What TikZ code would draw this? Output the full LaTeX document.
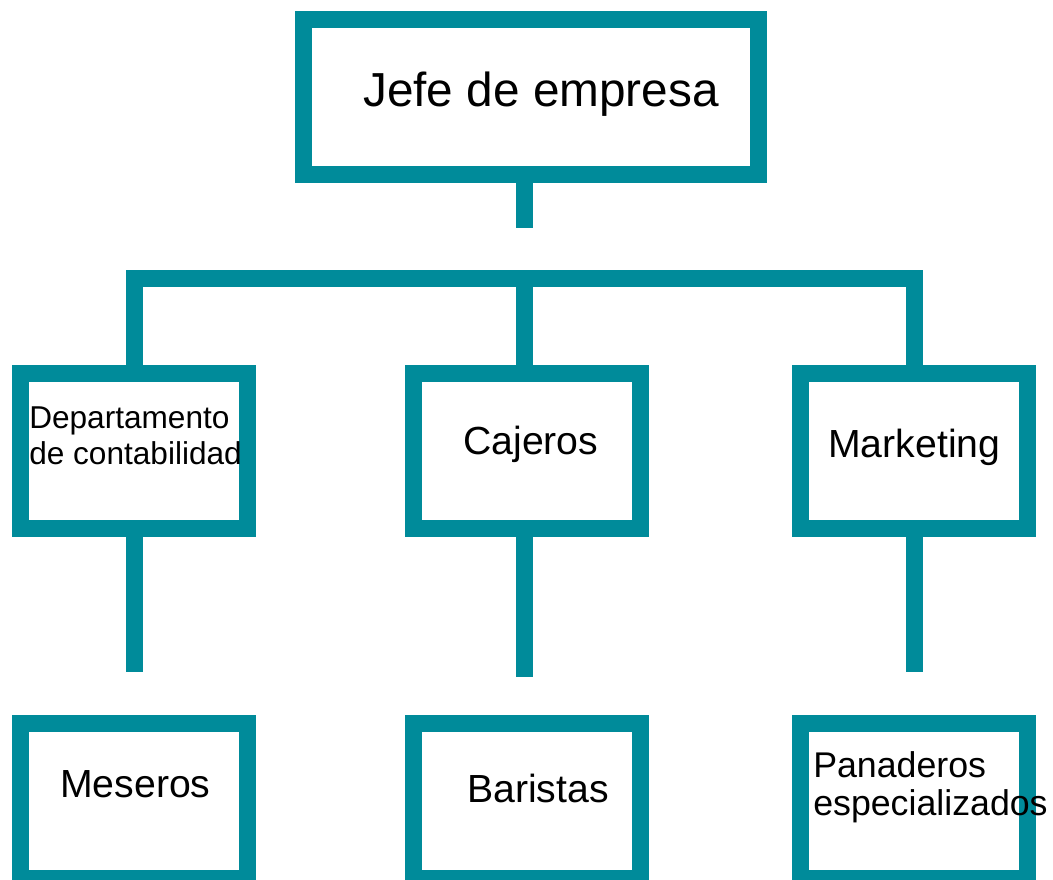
\documentclass[tikz,border=0pt]{standalone}
\usepackage{fontspec}
\setmainfont{Liberation Sans}
\definecolor{teal}{RGB}{0,139,154}

\begin{document}
\begin{tikzpicture}[x=0.75pt,y=-0.75pt,
  box/.style={draw=teal,rectangle,line width=12.75pt,minimum width=170.25pt,minimum height=116.25pt,inner sep=0pt},
  link/.style={draw=teal,line width=12.75pt,line join=miter},
  lbl/.style={inner sep=0pt,anchor=base west,align=left}]
\useasboundingbox (0,0) rectangle (1053,879);

% boxes
\node [box,minimum width=340.9pt,minimum height=115.9pt] (jefe) at (531.25,96.75) {};
\node [box] (dep) at (134,450.5) {};
\node [box] (caj) at (527,450.5) {};
\node [box] (mkt) at (914,450.5) {};
\node [box] (mes) at (134,801) {};
\node [box] (bar) at (527,801) {};
\node [box] (pan) at (914,801) {};

% texts (two-line labels sit on their last baseline)
\node [lbl,font=\fontsize{35.8pt}{40pt}\selectfont] (jefetxt) at (363,106) {Jefe de empresa};
\node [lbl,font=\fontsize{23.7pt}{27pt}\selectfont] (deptxt) at (29,464) {Departamento\\de contabilidad};
\node [lbl,font=\fontsize{29.4pt}{33pt}\selectfont] (cajtxt) at (463,454) {Cajeros};
\node [lbl,font=\fontsize{29.4pt}{33pt}\selectfont] (mkttxt) at (828,457) {Marketing};
\node [lbl,font=\fontsize{29.4pt}{33pt}\selectfont] (mestxt) at (60,797) {Meseros};
\node [lbl,font=\fontsize{29.4pt}{33pt}\selectfont] (bartxt) at (467,802) {Baristas};
\node [lbl,font=\fontsize{26.8pt}{28.5pt}\selectfont] (pantxt) at (813,815) {Panaderos\\especializados};

% connectors
\coordinate (topend) at (524,228);
\coordinate (hbar) at (524,278.5);
\coordinate (depend) at (134,672);
\coordinate (cajend) at (524,677);
\coordinate (mktend) at (914,672);

\draw [link] (jefe.south -| topend) -- (topend);
\draw [link] (dep.north) |- (hbar) -| (mkt.north);
\draw [link] (hbar) -- (caj.north -| hbar);
\draw [link] (dep.south) -- (depend);
\draw [link] (caj.south -| cajend) -- (cajend);
\draw [link] (mkt.south) -- (mktend);

\end{tikzpicture}
\end{document}
